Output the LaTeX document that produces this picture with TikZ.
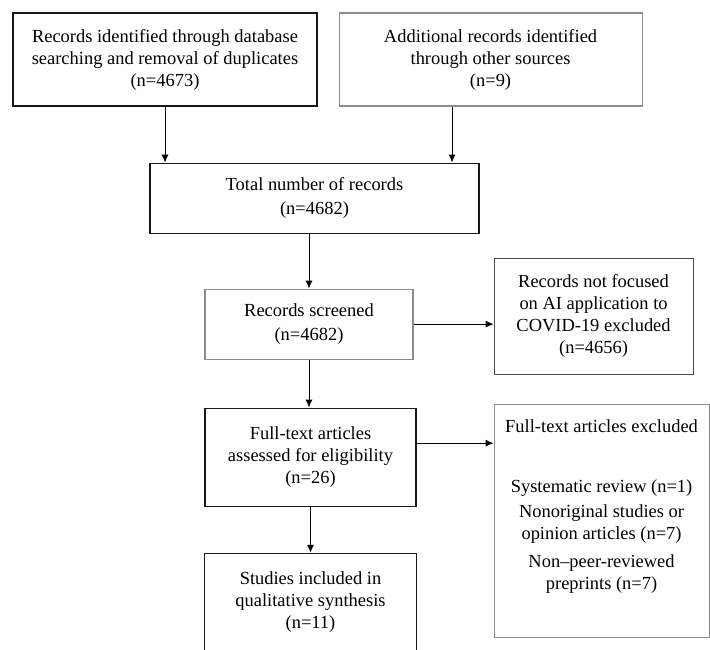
\documentclass[tikz,border=0pt]{standalone}
\usepackage{fontspec}
\setmainfont{Liberation Serif}
\usepackage{tikz}
\usetikzlibrary{positioning, arrows.meta}

\begin{document}
\begin{tikzpicture}[
            box/.style={rectangle, draw=black!90, line width=0.6pt, align=center, inner sep=2pt, font=\fontsize{10.5}{12.5}\selectfont},
            greybox/.style={box, draw=black!45},
            arrow/.style={line width=0.55pt, ->, >={Latex[length=4.5pt, width=4pt]}}]

            \useasboundingbox (0,0) rectangle (14.2,-12.98);
            \clip (0,0) rectangle (14.2,-12.98);

            % --- Identificacion ---
            \node (recdb) [box, minimum width=6.08cm, minimum height=1.86cm] at (3.3,-1.19) {Records identified through database\\searching and removal of duplicates\\(n=4673)};
            \node (recother) [greybox, minimum width=6.06cm, minimum height=1.86cm, right=0.42cm of recdb] {Additional records identified\\through other sources\\(n=9)};

            \node (total) [box, minimum width=6.58cm, minimum height=1.4cm, below=1.12cm of recdb, xshift=2.99cm] {Total number of records\\[1.5pt](n=4682)};

            \draw [arrow] (recdb.south) -- (recdb.south |- total.north);
            \draw [arrow] ([xshift=-0.77cm]recother.south) -- ([xshift=-0.77cm]recother.south |- total.north);

            % --- Cribado ---
            \node (screened) [greybox, minimum width=4.16cm, minimum height=1.4cm, below=1.1cm of total, xshift=-0.11cm] {Records screened\\[1.5pt](n=4682)};
            \node (excl1) [box, draw=black!70, minimum width=3.98cm, minimum height=2.32cm, right=1.6cm of screened, yshift=0.16cm] {Records not focused\\on AI application to\\COVID-19 excluded\\(n=4656)};

            \draw [arrow] (total.south -| screened.north) -- (screened.north);
            \draw [arrow] (screened.east) -- (screened.east -| excl1.west);

            % --- Elegibilidad ---
            \node (fulltext) [box, minimum width=4.22cm, minimum height=1.96cm, below=0.96cm of screened, xshift=0.03cm] {Full-text articles\\assessed for eligibility\\(n=26)};
            \node (excl2) [greybox, minimum width=4.3cm, minimum height=4.66cm, inner ysep=8.7pt, text depth=18.6pt, right=1.54cm of fulltext, yshift=-1.27cm] {Full-text articles excluded\\[21.6pt]Systematic review (n=1)\\[1.7pt]Nonoriginal studies or\\opinion articles (n=7)\\[3.4pt]Non--peer-reviewed\\preprints (n=7)};

            \draw [arrow] (screened.south) -- (screened.south |- fulltext.north);
            \draw [arrow] ([yshift=0.28cm]fulltext.east) -- ([yshift=0.28cm]fulltext.east -| excl2.west);

            % --- Inclusion ---
            \node (studies) [box, minimum width=4.24cm, minimum height=1.94cm, below=0.92cm of fulltext] {Studies included in\\qualitative synthesis\\(n=11)};

            \draw [arrow] (fulltext.south) -- (fulltext.south |- studies.north);

        \end{tikzpicture}
\end{document}
